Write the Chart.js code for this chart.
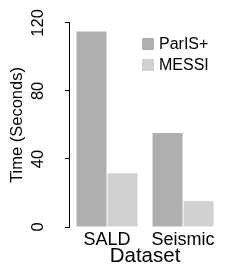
<!DOCTYPE html>
<html>
<head>
<meta charset="utf-8">
<script src="https://cdn.jsdelivr.net/npm/chart.js@4/dist/chart.umd.min.js"></script>
<style>
	html, body { margin: 0; padding: 0; background: #fff; }
	#wrap { width: 241px; height: 271px; }
</style>
</head>
<body>
<div id="wrap"><canvas id="chart"></canvas></div>
<script>
const categories = ["SALD", "Seismic"];
const seriesNames = ["ParIS+", "MESSI"];
const parisValues = [115, 55.2];
const messiValues = [31.6, 15.2];
const yTicks = [0, 40, 80, 120];

const FONT = "'Liberation Sans', Arial, Helvetica, sans-serif";
const colors = ["#b1aeae", "#d2d1d2"];

// legend sits inside the plot, drawn from the dataset labels/colours
const insideLegend = {
	id: "insideLegend",
	afterDraw(chart) {
		const ctx = chart.ctx;
		ctx.save();
		ctx.font = "16px " + FONT;
		ctx.textBaseline = "middle";
		ctx.textAlign = "left";
		chart.data.datasets.forEach((ds, i) => {
			const y = 38 + i * 21;
			ctx.fillStyle = ds.backgroundColor;
			ctx.fillRect(142, y, 12, 12);
			ctx.fillStyle = "#000";
			ctx.fillText(ds.label, 159, y + 6.5);
		});
		ctx.restore();
	},
};

new Chart(document.getElementById("chart"), {
	type: "bar",
	data: {
		labels: categories,
		datasets: [
			{ label: seriesNames[0], data: parisValues, backgroundColor: colors[0] },
			{ label: seriesNames[1], data: messiValues, backgroundColor: colors[1] },
		],
	},
	options: {
		responsive: true,
		maintainAspectRatio: false,
		animation: false,
		layout: { padding: { left: 0, top: 22, right: 20, bottom: 0 } },
		datasets: { bar: { categoryPercentage: 0.816, barPercentage: 0.968, borderWidth: 0 } },
		plugins: {
			legend: { display: false },
			tooltip: { enabled: false },
		},
		scales: {
			x: {
				grid: { display: false, drawTicks: false },
				border: { display: false },
				ticks: { color: "#000", font: { family: FONT, size: 18 }, padding: 2 },
				title: {
					display: true,
					text: "Dataset",
					color: "#000",
					font: { family: FONT, size: 20.5 },
					padding: { top: 0, bottom: 2 },
				},
				afterFit(scale) {
					scale.height = 44;
				},
			},
			y: {
				min: 0,
				max: 120,
				afterBuildTicks(scale) {
					scale.ticks = yTicks.map((v) => ({ value: v }));
				},
				grid: { drawOnChartArea: false, drawTicks: true, tickLength: 4, color: "#000" },
				border: { display: true, color: "#000", width: 1 },
				ticks: {
					color: "#000",
					font: { family: FONT, size: 16.5 },
					minRotation: 90,
					maxRotation: 90,
					crossAlign: "center",
					padding: 13,
				},
				title: {
					display: true,
					text: "Time (Seconds)",
					color: "#000",
					font: { family: FONT, size: 16.5 },
					padding: { top: 8, bottom: 0 },
				},
				afterFit(scale) {
					scale.width = 69;
				},
			},
		},
	},
	plugins: [insideLegend],
});
</script>
</body>
</html>
